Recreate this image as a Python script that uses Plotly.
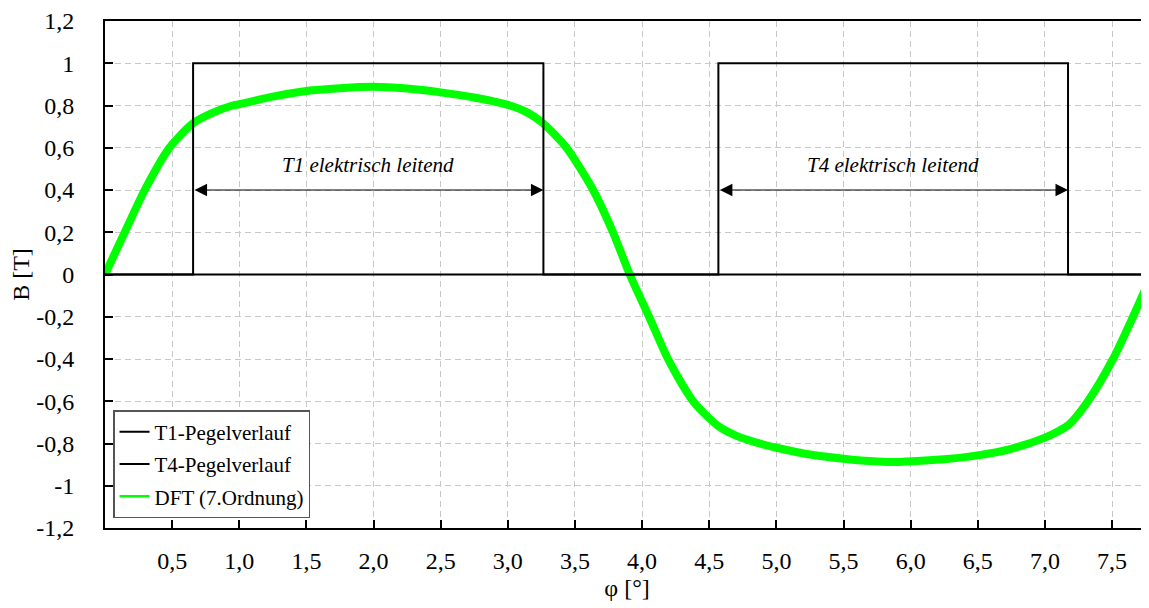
import plotly.graph_objects as go

# ---- data ----
phi_dft = [0, 0.147, 0.296, 0.48, 0.656, 0.8, 0.95, 1.0, 1.25, 1.5, 1.75, 2.0, 2.25, 2.5,
           2.75, 3.0, 3.15, 3.262, 3.437, 3.635, 3.783, 3.908, 4.052, 4.193, 4.38, 4.564,
           4.708, 4.908, 5.0, 5.25, 5.5, 5.75, 5.918, 6.0, 6.25, 6.5, 6.75, 7.0, 7.1, 7.18,
           7.32, 7.507, 7.656, 7.775]
b_dft = [0.0, 0.20, 0.40, 0.60, 0.716, 0.765, 0.80, 0.806, 0.842, 0.869, 0.882, 0.889, 0.880,
         0.862, 0.838, 0.803, 0.765, 0.716, 0.60, 0.40, 0.20, 0.0, -0.20, -0.40, -0.60,
         -0.716, -0.765, -0.806, -0.82, -0.852, -0.872, -0.885, -0.888, -0.884, -0.875,
         -0.856, -0.825, -0.772, -0.742, -0.71, -0.60, -0.40, -0.20, -0.03]

phi_t1 = [0, 0.656, 0.656, 3.265, 3.265, 7.775]
b_t1 = [0, 0, 1, 1, 0, 0]
phi_t4 = [0, 4.568, 4.568, 7.172, 7.172, 7.775]
b_t4 = [0, 0, 1, 1, 0, 0]

x_tickvals = [0.5, 1.0, 1.5, 2.0, 2.5, 3.0, 3.5, 4.0, 4.5, 5.0, 5.5, 6.0, 6.5, 7.0, 7.5]
x_ticktext = ["0,5", "1,0", "1,5", "2,0", "2,5", "3,0", "3,5", "4,0", "4,5", "5,0", "5,5",
              "6,0", "6,5", "7,0", "7,5"]
y_tickvals = [1.2, 1.0, 0.8, 0.6, 0.4, 0.2, 0, -0.2, -0.4, -0.6, -0.8, -1.0, -1.2]
y_ticktext = ["1,2", "1", "0,8", "0,6", "0,4", "0,2", "0", "-0,2", "-0,4", "-0,6", "-0,8",
              "-1", "-1,2"]

labels = ["T1 elektrisch leitend", "T4 elektrisch leitend"]
label_x = [1.96, 5.87]
label_y = [0.52, 0.52]
arrow_from = [0.656, 4.568]
arrow_to = [3.265, 7.172]
arrow_y = [0.4, 0.4]

FONT = "Liberation Serif"
GREEN = "#00ff00"

fig = go.Figure()
fig.add_trace(go.Scatter(x=phi_dft, y=b_dft, mode="lines", name="DFT (7.Ordnung)",
                         line=dict(color=GREEN, width=8, shape="spline", smoothing=0.7),
                         showlegend=False, legendgroup="c"))
fig.add_trace(go.Scatter(x=phi_t1, y=b_t1, mode="lines", name="T1-Pegelverlauf",
                         line=dict(color="black", width=2), legendgroup="a", legendrank=1))
fig.add_trace(go.Scatter(x=phi_t4, y=b_t4, mode="lines", name="T4-Pegelverlauf",
                         line=dict(color="black", width=2), legendgroup="b", legendrank=2))
fig.add_trace(go.Scatter(x=[None], y=[None], mode="lines", name="DFT (7.Ordnung)",
                         line=dict(color=GREEN, width=2.5), legendgroup="c", legendrank=3))

for i in range(len(labels)):
    fig.add_annotation(x=arrow_to[i], y=arrow_y[i], ax=arrow_from[i], ay=arrow_y[i],
                       xref="x", yref="y", axref="x", ayref="y", text="",
                       showarrow=True, arrowhead=2, arrowside="end+start",
                       arrowsize=2.5, arrowwidth=1, arrowcolor="black")
    fig.add_annotation(x=label_x[i], y=label_y[i], xref="x", yref="y", text=labels[i],
                       showarrow=False, font=dict(family=FONT, size=21, color="black",
                                                  style="italic"))

# body of the page has an 8px margin, so the figure is 8px smaller and margins shifted
fig.update_layout(
    width=1141, height=600,
    margin=dict(l=97, r=0, t=11, b=80),
    paper_bgcolor="white", plot_bgcolor="white",
    font=dict(family=FONT, size=21, color="black"),
    legend=dict(x=0.0077, y=0.0196, xanchor="left", yanchor="bottom",
                bgcolor="white", bordercolor="#555555", borderwidth=1.5,
                font=dict(family=FONT, size=21, color="black"),
                traceorder="grouped", tracegroupgap=2,
                entrywidth=205, entrywidthmode="pixels"),
)
fig.update_xaxes(range=[0, 7.775], tickvals=x_tickvals, ticktext=x_ticktext,
                 showgrid=True, gridcolor="#c8c8c8", gridwidth=1, griddash="6px,4px",
                 zeroline=False, showline=True, linecolor="black", linewidth=1.8, mirror=True,
                 ticks="inside", ticklen=8, tickwidth=1.5, tickcolor="black",
                 ticklabelstandoff=10, ticklabeloverflow="allow",
                 tickfont=dict(family=FONT, size=24),
                 title=dict(text="φ [°]", font=dict(family=FONT, size=24), standoff=6))
fig.update_yaxes(range=[-1.2, 1.2], tickvals=y_tickvals, ticktext=y_ticktext,
                 showgrid=True, gridcolor="#c8c8c8", gridwidth=1, griddash="6px,4px",
                 zeroline=False, showline=True, linecolor="black", linewidth=1.8,
                 ticks="inside", ticklen=8, tickwidth=1.5, tickcolor="black",
                 ticklabelstandoff=24, ticklabeloverflow="allow",
                 tickfont=dict(family=FONT, size=24),
                 title=dict(text="B [T]", font=dict(family=FONT, size=24), standoff=0))

fig.write_html("out.html")
